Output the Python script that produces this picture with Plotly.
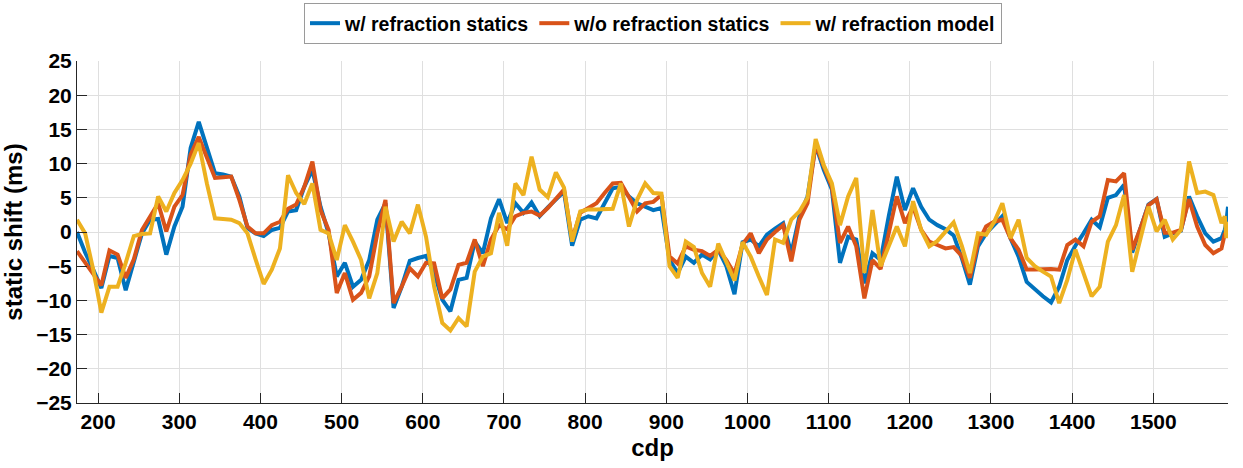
import plotly.graph_objects as go

# CDP positions of the samples
cdp = list(range(174, 1585, 10)) + [1588, 1590, 1592]

# Static shifts (ms) picked at each CDP
with_refraction_statics = [
    0, -3, -5.5, -8.2, -3.5, -3.8, -8.5, -4.5, -0.2, 1.8,
    1.9, -3.3, 0.8, 3.7, 12.3, 16.1, 12.4, 8.6, 8.4, 8.1,
    5.2, 0.6, -0.2, -0.6, 0.3, 0.6, 3.0, 3.2, 6.6, 9.1,
    3.7, -0.2, -6.5, -4.5, -8, -7, -4.1, 1.8, 4.2, -11.1,
    -8, -4.2, -3.8, -3.5, -6, -9.9, -11.6, -7, -6.7, -1.4,
    -3.1, 2, 4.8, 1.3, 4.2, 2.8, 4.3, 2.3, 3.6, 4.8,
    5.9, -2, 1.8, 2.3, 2, 4.2, 6.4, 6.6, 5.2, 4.2,
    3.7, 3.2, 3.5, -4.1, -6, -3.6, -4.5, -3.3, -4, -2.6,
    -5, -9.1, -1.5, -1.1, -2.1, -0.4, 0.5, 1.3, -3.1, 2.3,
    5.2, 12.7, 9.1, 6.2, -4.5, -0.7, -1.1, -7.5, -3.1, -4.1,
    2.3, 8.1, 3.2, 6.4, 3.7, 1.8, 1, 0.4, -0.5, -3.8,
    -7.7, -2.1, -0.2, 1, 2.3, -0.9, -3.6, -7.3, -8.4, -9.4,
    -10.3, -8, -4.1, -2, -0.2, 1.8, 0.7, 5, 5.4, 6.9,
    -3, 0.3, 4, 4.8, -0.7, -0.2, 0.2, 5.2, 2.3, -0.2,
    -1.4, -0.9, 0.3, 1.5, 3.7,
]

without_refraction_statics = [
    -2.8, -4.5, -6, -7.8, -2.7, -3.3, -6.7, -4, 0.3, 2.3,
    4.2, 0.1, 3.7, 5.4, 11.3, 13.9, 10.9, 7.9, 8, 8.1,
    4.7, 0.8, -0.2, -0.2, 1, 1.5, 3.4, 4, 6.6, 10.3,
    3.2, 0.3, -8.9, -6, -9.9, -8.9, -6.5, -0.2, 4.7, -10.4,
    -8, -5.3, -6.5, -4.5, -4.6, -9.7, -8.4, -4.8, -4.5, -1.1,
    -5, -1.1, 1, 0.4, 2.3, 2.8, 3, 2.4, 3.5, 4.8,
    6.2, -1.1, 2.8, 3.5, 4.2, 5.7, 7.1, 7.2, 5.2, 3,
    4.2, 4.4, 5.4, -3.6, -4.6, -2.1, -2.6, -2.8, -3.5, -2.6,
    -4.1, -6.1, -1.8, -0.2, -3.1, -1.1, 0, 1, -4.3, 1.8,
    4.2, 12.9, 9.6, 6.6, -1.6, 0.8, -2.1, -9.7, -4.1, -5.4,
    -0.2, 5.2, 1.3, 3.7, 0.3, -1.4, -1.9, -2.4, -2.2, -3.5,
    -6.7, -1.6, 0.8, 1.5, 1.8, -0.9, -2.6, -5.5, -5.5, -5.4,
    -5.4, -5.5, -1.9, -1.1, -2.1, 1.5, 2.3, 7.6, 7.4, 8.6,
    -2.6, 0.5, 3.9, 4.8, -0.1, -0.1, 0.3, 4.8, 0.8, -1.9,
    -3.1, -2.4, -0.3, 0, 0.3,
]

with_refraction_model = [
    1.8, -0.2, -5.5, -11.8, -8, -8, -4.5, -0.6, -0.3, -0.2,
    5.2, 3, 5.7, 7.6, 10, 13, 7.1, 2, 1.9, 1.8,
    1.3, -0.2, -4, -7.6, -5.5, -2.4, 8.3, 5.7, 4.1, 7.1,
    0.3, -0.2, -4.1, 1, -1.4, -4.1, -9.7, -6, 3.7, -1.4,
    1.5, -0.2, 4, -0.7, -8, -13.3, -14.4, -12.6, -13.8, -5.8,
    -3.6, -3.1, 2.8, -2, 7.1, 5.4, 11, 6.2, 5.1, 8.7,
    6.5, -1.4, 3, 3.3, 3.3, 3.4, 3.4, 7.1, 0.8, 4.7,
    7.1, 5.7, 5.6, -5, -6.7, -1.4, -2.2, -6, -8, -1.7,
    -4.3, -7.1, -1.5, -3.6, -6.5, -9.2, -1.1, -1.6, 1.8, 3,
    5, 13.6, 9.8, 7.1, 1, 5.2, 7.9, -6, 3.2, -5,
    -2.1, 0.8, -2.1, 4.5, 0.3, -2.1, -1.3, 0, 1.4, -2,
    -6, -0.2, -0.4, 1.5, 4.2, -0.9, 1.8, -3.8, -5, -5.8,
    -6.5, -10.4, -7, -2.6, -6, -9.4, -8, -1.4, 1, 5.4,
    -5.8, -1.2, 3.7, 0.1, 1.8, -1.1, 0.3, 10.3, 5.7, 5.9,
    5.4, 1.3, 2.3, -0.9, 1.5,
]

series = [
    ("w/ refraction statics", with_refraction_statics, "#0072BD"),
    ("w/o refraction statics", without_refraction_statics, "#D95319"),
    ("w/ refraction model", with_refraction_model, "#EDB120"),
]

x_ticks = list(range(200, 1501, 100))
y_ticks = list(range(-25, 26, 5))

FONT = "Liberation Sans, Arial, sans-serif"
AXIS_COLOR = "#262626"
GRID_COLOR = "#dfdfdf"

fig = go.Figure()
for name, values, color in series:
    fig.add_trace(go.Scatter(
        x=cdp, y=values, name=name, mode="lines",
        line=dict(color=color, width=4),
    ))

fig.update_layout(
    width=1243, height=468,
    margin=dict(l=77, r=15, t=61, b=65, autoexpand=False),
    paper_bgcolor="white", plot_bgcolor="white",
    font=dict(family=FONT, color="black", weight="bold"),
    showlegend=True,
    legend=dict(
        orientation="h",
        x=(304 - 77) / 1151, xanchor="left",
        y=1 + (61 - 3) / 342, yanchor="top",
        bgcolor="white", bordercolor="#9a9a9a", borderwidth=1,
        font=dict(family=FONT, size=19.5, color="black", weight="bold"),
        itemwidth=30, tracegroupgap=0,
    ),
    xaxis=dict(
        range=[174, 1592], tickvals=x_ticks,
        ticks="inside", ticklen=10, tickcolor=AXIS_COLOR,
        showline=True, linecolor=AXIS_COLOR, linewidth=1,
        showgrid=True, gridcolor=GRID_COLOR, gridwidth=1,
        zeroline=False, mirror=False,
        tickfont=dict(size=21, color="black", weight="bold"),
        title=dict(text="cdp", standoff=6,
                   font=dict(size=24, color="black", weight="bold")),
    ),
    yaxis=dict(
        range=[-25, 25], tickvals=y_ticks,
        ticks="inside", ticklen=10, tickcolor=AXIS_COLOR,
        showline=True, linecolor=AXIS_COLOR, linewidth=1,
        showgrid=True, gridcolor=GRID_COLOR, gridwidth=1,
        zeroline=False, mirror=False,
        tickfont=dict(size=21, color="black", weight="bold"),
        title=dict(text="static shift (ms)", standoff=6,
                   font=dict(size=24, color="black", weight="bold")),
    ),
)

fig.write_html("out.html")
